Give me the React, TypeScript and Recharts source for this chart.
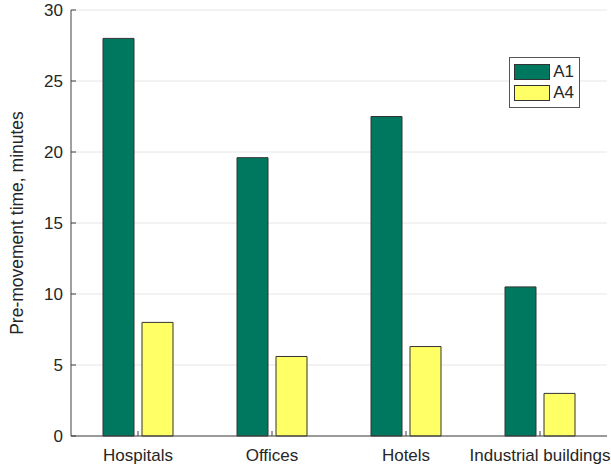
import { Bar, BarChart, CartesianGrid, Label, XAxis, YAxis } from 'recharts'

const categories = ['Hospitals', 'Offices', 'Hotels', 'Industrial buildings']
const a1Values = [28, 19.6, 22.5, 10.5]
const a4Values = [8, 5.6, 6.3, 3]
const yTicks = [0, 5, 10, 15, 20, 25, 30]

const data = categories.map((name, i) => ({ name, A1: a1Values[i], A4: a4Values[i] }))

const GREEN = '#00785f'
const YELLOW = '#ffff66'
const AXIS = '#404040'
const FONT = '"Liberation Sans", Arial, sans-serif'

const tickStyle = { fill: '#262626', fontSize: 17, fontFamily: FONT }

function LegendBox() {
  const items = [
    { label: 'A1', color: GREEN },
    { label: 'A4', color: YELLOW },
  ]
  return (
    <div
      style={{
        position: 'absolute',
        top: 57,
        left: 509,
        width: 60,
        border: '1px solid #555',
        background: '#fff',
        padding: '4px 5px 3px 4px',
        fontFamily: FONT,
        fontSize: 17,
        color: '#262626',
      }}
    >
      {items.map((it) => (
        <div key={it.label} style={{ display: 'flex', alignItems: 'center', height: 19, marginBottom: 2 }}>
          <span
            style={{
              display: 'inline-block',
              width: 37,
              height: 14,
              background: it.color,
              border: '1px solid #333',
              marginRight: 3,
            }}
          />
          <span>{it.label}</span>
        </div>
      ))}
    </div>
  )
}

export default function App() {
  return (
    <div style={{ position: 'absolute', left: 0, top: 0, width: 611, height: 464, background: '#fff' }}>
      <style>{'body{margin:0}'}</style>
      <BarChart
        width={611}
        height={464}
        data={data}
        margin={{ top: 10, right: 4, left: 0, bottom: 0 }}
        barSize={31}
        barGap={8}
      >
        <CartesianGrid stroke="#e6e6e6" vertical={false} />
        <XAxis
          dataKey="name"
          height={28}
          tick={tickStyle}
          tickSize={-5}
          tickMargin={18}
          axisLine={{ stroke: AXIS }}
          tickLine={{ stroke: AXIS }}
        />
        <XAxis
          xAxisId="top"
          orientation="top"
          dataKey="name"
          height={0}
          tick={false}
          tickLine={false}
          axisLine={{ stroke: AXIS }}
        />
        <YAxis
          width={71}
          domain={[0, 30]}
          ticks={yTicks}
          tick={tickStyle}
          tickSize={-5}
          tickMargin={13}
          axisLine={{ stroke: AXIS }}
          tickLine={{ stroke: AXIS }}
        >
          <Label
            content={({ viewBox }: any) => {
              const cx = viewBox.x + 17
              const cy = viewBox.y + viewBox.height / 2
              return (
                <text
                  x={cx}
                  y={cy}
                  transform={`rotate(-90 ${cx} ${cy})`}
                  textAnchor="middle"
                  dominantBaseline="central"
                  fill="#262626"
                  fontSize={17.5}
                  fontFamily={FONT}
                >
                  Pre-movement time, minutes
                </text>
              )
            }}
          />
        </YAxis>
        <YAxis
          yAxisId="right"
          orientation="right"
          width={0}
          domain={[0, 30]}
          ticks={yTicks}
          tick={false}
          tickSize={-5}
          axisLine={{ stroke: AXIS }}
          tickLine={{ stroke: AXIS }}
        />
        <Bar dataKey="A1" fill={GREEN} stroke="#333" strokeWidth={1} isAnimationActive={false} />
        <Bar dataKey="A4" fill={YELLOW} stroke="#333" strokeWidth={1} isAnimationActive={false} />
      </BarChart>
      <LegendBox />
    </div>
  )
}
